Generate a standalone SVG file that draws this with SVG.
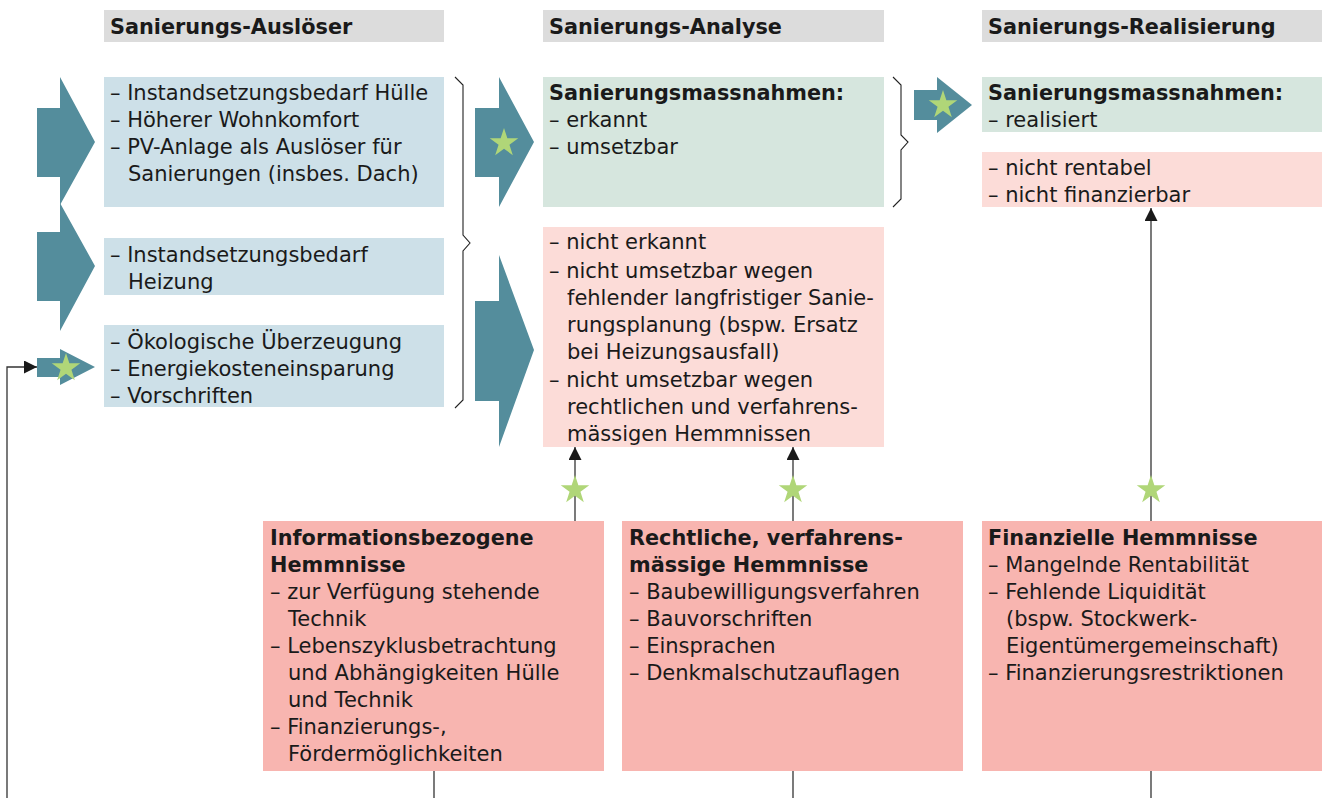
<svg xmlns="http://www.w3.org/2000/svg" width="1322" height="798" viewBox="0 0 1322 798">
<style>
text{font-family:"DejaVu Sans","Open Sans",sans-serif;font-size:21px;fill:#1a1a1a}
.b{font-weight:bold;font-size:20.8px}
.hdr{fill:#dcdcdc}
.blue{fill:#cde0e8}
.green{fill:#d6e6de}
.lpink{fill:#fcdcd8}
.pink{fill:#f8b5b0}
.arr{fill:#548d9c}
.star{fill:#b0d678}
.ln{stroke:#333;stroke-width:1.3;fill:none}
.br{stroke:#222;stroke-width:1.1;fill:none}
</style>
<defs>
<path id="star" class="star" d="M0,-15 L3.37,-4.64 L14.27,-4.64 L5.45,1.77 L8.82,12.14 L0,5.73 L-8.82,12.14 L-5.45,1.77 L-14.27,-4.64 L-3.37,-4.64 Z"/>
<marker id="ah" viewBox="0 0 10 10" refX="10" refY="5" markerWidth="13" markerHeight="13" markerUnits="userSpaceOnUse" orient="auto">
<path d="M0,0 L10,5 L0,10 Z" fill="#1a1a1a"/>
</marker>
</defs>

<g id="headers">
<rect class="hdr" x="104" y="10" width="340" height="32"/>
<text class="b" x="110" y="34">Sanierungs-Auslöser</text>
<rect class="hdr" x="543" y="10" width="341" height="32"/>
<text class="b" x="549" y="34">Sanierungs-Analyse</text>
<rect class="hdr" x="982" y="10" width="340" height="32"/>
<text class="b" x="988" y="34">Sanierungs-Realisierung</text>
</g>

<g id="ausloeser-arrows">
<polygon class="arr" points="37,108 60,108 60,77 95,142 60,205 60,177 37,177"/>
<polygon class="arr" points="37,232 60,232 60,203 95,266 60,331 60,301 37,301"/>
<polygon class="arr" points="37,358 60,358 60,349 95,367 60,385 60,377 37,377"/>
<use href="#star" x="66" y="368"/>
</g>

<g id="trigger1">
<rect class="blue" x="104" y="77" width="340" height="130"/>
<text x="110" y="100">– Instandsetzungsbedarf Hülle</text>
<text x="110" y="127">– Höherer Wohnkomfort</text>
<text x="110" y="154">– PV-Anlage als Auslöser für</text>
<text x="128" y="181">Sanierungen (insbes. Dach)</text>
</g>
<g id="trigger2">
<rect class="blue" x="104" y="238" width="340" height="57"/>
<text x="110" y="262">– Instandsetzungsbedarf</text>
<text x="128" y="289">Heizung</text>
</g>
<g id="trigger3">
<rect class="blue" x="104" y="325" width="340" height="82"/>
<text x="110" y="349">– Ökologische Überzeugung</text>
<text x="110" y="376">– Energiekosteneinsparung</text>
<text x="110" y="403">– Vorschriften</text>
</g>

<g id="brace1">
<path class="br" d="M455,77 L463,85 L463,235 L470,243 L463,251 L463,400 L455,408"/>
</g>

<g id="analyse-arrows">
<polygon class="arr" points="475,108 499,108 499,77 534,142 499,207 499,177 475,177"/>
<use href="#star" x="504" y="143"/>
<polygon class="arr" points="475,301 499,301 499,255 534,350 499,447 499,401 475,401"/>
</g>

<g id="analyse-ok">
<rect class="green" x="543" y="77" width="341" height="130"/>
<text class="b" x="549" y="100">Sanierungsmassnahmen:</text>
<text x="549" y="127">– erkannt</text>
<text x="549" y="154">– umsetzbar</text>
</g>
<g id="analyse-fail">
<rect class="lpink" x="543" y="227" width="341" height="220"/>
<text x="549" y="249">– nicht erkannt</text>
<text x="549" y="278">– nicht umsetzbar wegen</text>
<text x="567" y="305">fehlender langfristiger Sanie-</text>
<text x="567" y="332">rungsplanung (bspw. Ersatz</text>
<text x="567" y="359">bei Heizungsausfall)</text>
<text x="549" y="387">– nicht umsetzbar wegen</text>
<text x="567" y="414">rechtlichen und verfahrens-</text>
<text x="567" y="441">mässigen Hemmnissen</text>
</g>

<g id="brace2">
<path class="br" d="M893,77 L901,85 L901,135 L908,142 L901,150 L901,199 L893,207"/>
</g>

<g id="real-arrow">
<polygon class="arr" points="914,90 937,90 937,77 972,105 937,133 937,120 914,120"/>
<use href="#star" x="943" y="105"/>
</g>

<g id="real-ok">
<rect class="green" x="982" y="77" width="340" height="55"/>
<text class="b" x="988" y="100">Sanierungsmassnahmen:</text>
<text x="988" y="127">– realisiert</text>
</g>
<g id="real-fail">
<rect class="lpink" x="982" y="152" width="340" height="55"/>
<text x="988" y="175">– nicht rentabel</text>
<text x="988" y="202">– nicht finanzierbar</text>
</g>

<g id="hemm-info">
<rect class="pink" x="263" y="521" width="341" height="250"/>
<text class="b" x="270" y="545">Informationsbezogene</text>
<text class="b" x="270" y="572">Hemmnisse</text>
<text x="270" y="599">– zur Verfügung stehende</text>
<text x="288" y="626">Technik</text>
<text x="270" y="653">– Lebenszyklusbetrachtung</text>
<text x="288" y="680">und Abhängigkeiten Hülle</text>
<text x="288" y="707">und Technik</text>
<text x="270" y="734">– Finanzierungs-,</text>
<text x="288" y="761">Fördermöglichkeiten</text>
</g>
<g id="hemm-recht">
<rect class="pink" x="622" y="521" width="341" height="250"/>
<text class="b" x="629" y="545">Rechtliche, verfahrens-</text>
<text class="b" x="629" y="572">mässige Hemmnisse</text>
<text x="629" y="599">– Baubewilligungsverfahren</text>
<text x="629" y="626">– Bauvorschriften</text>
<text x="629" y="653">– Einsprachen</text>
<text x="629" y="680">– Denkmalschutzauflagen</text>
</g>
<g id="hemm-fin">
<rect class="pink" x="982" y="521" width="340" height="250"/>
<text class="b" x="988" y="545">Finanzielle Hemmnisse</text>
<text x="988" y="572">– Mangelnde Rentabilität</text>
<text x="988" y="599">– Fehlende Liquidität</text>
<text x="1006" y="626">(bspw. Stockwerk-</text>
<text x="1006" y="653">Eigentümergemeinschaft)</text>
<text x="988" y="680">– Finanzierungsrestriktionen</text>
</g>

<g id="connectors">
<path class="ln" d="M7,798 L7,367 L37,367" marker-end="url(#ah)"/>
<path class="ln" d="M575,521 L575,447" marker-end="url(#ah)"/>
<path class="ln" d="M793,521 L793,447" marker-end="url(#ah)"/>
<path class="ln" d="M1151,521 L1151,208" marker-end="url(#ah)"/>
<path class="ln" d="M434,771 L434,798"/>
<path class="ln" d="M793,771 L793,798"/>
<path class="ln" d="M1151,771 L1151,798"/>
<use href="#star" x="575" y="490"/>
<use href="#star" x="793" y="490"/>
<use href="#star" x="1151" y="490"/>
</g>
</svg>
